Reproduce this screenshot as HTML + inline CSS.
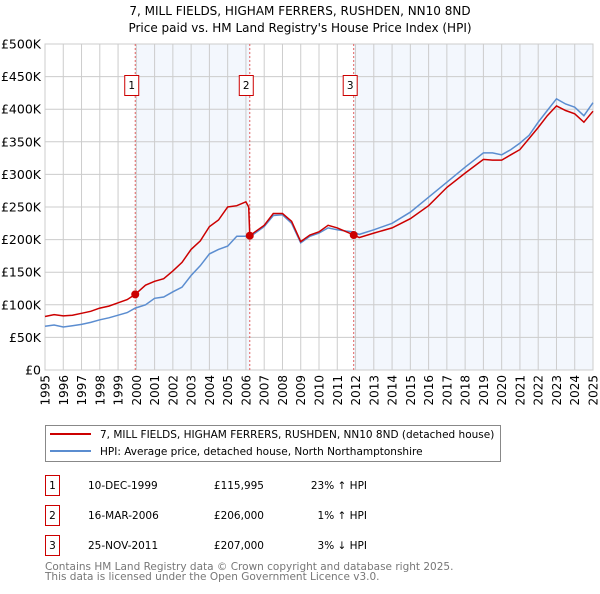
<!DOCTYPE html>
<html><head><meta charset="utf-8"><style>
body{margin:0;background:#fff;font-family:"DejaVu Sans","Liberation Sans",sans-serif;}
svg text{font-family:"DejaVu Sans","Liberation Sans",sans-serif;}
</style></head><body>
<svg id="chart" width="600" height="590" viewBox="0 0 600 590" xmlns="http://www.w3.org/2000/svg">
<text x="300" y="15" text-anchor="middle" font-size="12">7, MILL FIELDS, HIGHAM FERRERS, RUSHDEN, NN10 8ND</text>
<text x="300" y="32" text-anchor="middle" font-size="12">Price paid vs. HM Land Registry's House Price Index (HPI)</text>
<g id="plot"></g>
<g>
<rect x="45.5" y="425.5" width="455" height="36" fill="#fff" stroke="#888"/>
<line x1="50" y1="434" x2="91" y2="434" stroke="#cc0000" stroke-width="2"/>
<text x="100" y="438" font-size="10.5">7, MILL FIELDS, HIGHAM FERRERS, RUSHDEN, NN10 8ND (detached house)</text>
<line x1="50" y1="451" x2="91" y2="451" stroke="#5b8dd0" stroke-width="2"/>
<text x="100" y="455" font-size="10.5">HPI: Average price, detached house, North Northamptonshire</text>
</g>
<g font-size="10.5">
<rect x="45.5" y="475.5" width="14" height="20" fill="#fff" stroke="#cc0000"/><text x="52.5" y="489" text-anchor="middle">1</text>
<text x="88" y="489">10-DEC-1999</text><text x="264" y="489" text-anchor="end">£115,995</text><text x="367" y="489" text-anchor="end">23% ↑ HPI</text>
<rect x="45.5" y="505.5" width="14" height="20" fill="#fff" stroke="#cc0000"/><text x="52.5" y="519" text-anchor="middle">2</text>
<text x="88" y="519">16-MAR-2006</text><text x="264" y="519" text-anchor="end">£206,000</text><text x="367" y="519" text-anchor="end">1% ↑ HPI</text>
<rect x="45.5" y="535.5" width="14" height="20" fill="#fff" stroke="#cc0000"/><text x="52.5" y="549" text-anchor="middle">3</text>
<text x="88" y="549">25-NOV-2011</text><text x="264" y="549" text-anchor="end">£207,000</text><text x="367" y="549" text-anchor="end">3% ↓ HPI</text>
</g>
<text x="45" y="570" font-size="10.5" fill="#777">Contains HM Land Registry data © Crown copyright and database right 2025.</text>
<text x="45" y="580" font-size="10.5" fill="#777">This data is licensed under the Open Government Licence v3.0.</text>
</svg>
<script>
const yearTicks=[1995,1996,1997,1998,1999,2000,2001,2002,2003,2004,2005,2006,2007,2008,2009,2010,2011,2012,2013,2014,2015,2016,2017,2018,2019,2020,2021,2022,2023,2024,2025];
const priceTicks=[0,50,100,150,200,250,300,350,400,450,500];
const priceLabels=["£0","£50K","£100K","£150K","£200K","£250K","£300K","£350K","£400K","£450K","£500K"];
const times=[1995,1995.5,1996,1996.5,1997,1997.5,1998,1998.5,1999,1999.5,1999.94,2000.5,2001,2001.5,2002,2002.5,2003,2003.5,2004,2004.5,2005,2005.5,2006,2006.15,2006.21,2006.5,2007,2007.5,2008,2008.5,2009,2009.5,2010,2010.5,2011,2011.5,2011.9,2012.2,2013,2014,2015,2016,2017,2018,2019,2019.5,2020,2020.5,2021,2021.5,2022,2022.5,2023,2023.5,2024,2024.5,2025];
const hpi=[67,69,66,68,70,73,77,80,84,88,95,100,110,112,120,127,145,160,178,185,190,205,205,210,204,210,220,237,238,225,195,205,210,218,215,213,212,208,215,225,242,265,288,311,333,333,330,338,348,360,380,398,416,408,403,390,410];
const price=[82,85,83,84,87,90,95,98,103,108,116,130,136,140,152,165,185,198,220,230,250,252,258,250,206,212,222,240,240,228,197,207,212,222,218,212,207,203,210,218,232,252,280,302,323,322,322,330,338,355,372,390,405,398,393,380,397];
const sales=[[1999.94,115.995],[2006.21,206],[2011.9,207]];
const L=45,R=593,T=44,B=370;
const x=t=>L+(t-1995)/30*(R-L);
const y=v=>B-v/500*(B-T);
const NS="http://www.w3.org/2000/svg";
const g=document.getElementById('plot');
function mk(tag,attrs){const e=document.createElementNS(NS,tag);for(const k in attrs)e.setAttribute(k,attrs[k]);g.appendChild(e);return e;}
let s1=mk('rect',{x:x(sales[0][0]),y:T,width:x(sales[1][0])-x(sales[0][0]),height:B-T,fill:'#eef3fc',opacity:0.7});


let s2=mk('rect',{x:x(sales[2][0]),y:T,width:R-x(sales[2][0]),height:B-T,fill:'#eef3fc',opacity:0.7});


yearTicks.forEach(t=>{
 const l=mk('line',{x1:x(t),y1:T,x2:x(t),y2:B,stroke:'#ccc'});
 
 
 const tx=mk('text',{x:0,y:0,'font-size':12,'text-anchor':'end',transform:`translate(${x(t)+4.5},${B+5}) rotate(-90)`});
 tx.textContent=t;
 
 
});
priceTicks.forEach((v,i)=>{
 const l=mk('line',{x1:L,y1:y(v),x2:R,y2:y(v),stroke:'#ccc'});
 
 
 const tx=mk('text',{x:L-4,y:y(v)+4.5,'font-size':12.5,'text-anchor':'end'});
 tx.textContent=priceLabels[i];
 
 
});
const fr=mk('rect',{x:L,y:T,width:R-L,height:B-T,fill:'none',stroke:'#ccc'});


sales.forEach((s,i)=>{
 const l=mk('line',{x1:x(s[0]),y1:T,x2:x(s[0]),y2:B,stroke:'#e06060','stroke-dasharray':'2,2'});
 
 
 const bx=mk('rect',{x:x(s[0])-10.5,y:75.5,width:14,height:20,fill:'#fff',stroke:'#cc0000'});
 
 
 const tx=mk('text',{x:x(s[0])-3.5,y:89,'font-size':10.5,'text-anchor':'middle'});
 tx.textContent=i+1;
 
 
});
const pts=a=>times.map((t,i)=>x(t).toFixed(1)+','+y(a[i]).toFixed(1)).join(' ');
const hl=mk('polyline',{points:pts(hpi),fill:'none',stroke:'#5b8dd0','stroke-width':1.5});


const pl=mk('polyline',{points:pts(price),fill:'none',stroke:'#cc0000','stroke-width':1.5});


sales.forEach(s=>{
 const c=mk('circle',{cx:x(s[0]),cy:y(s[1]),r:4,fill:'#cc0000'});
 
 
});
</script>
</body></html>
